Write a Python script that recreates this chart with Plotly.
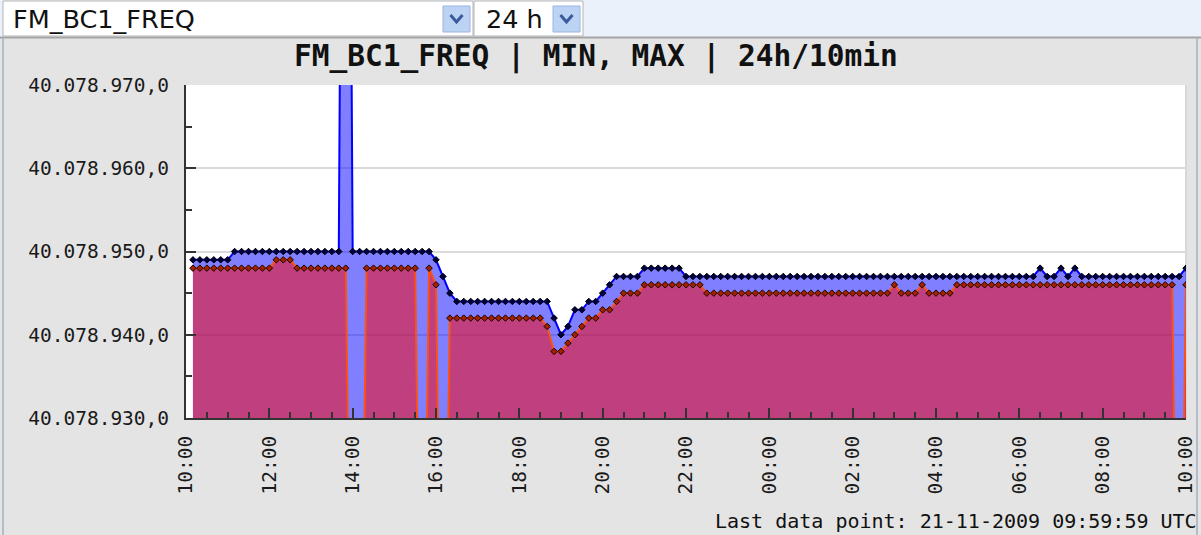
import pandas as pd
import plotly.graph_objects as go

# ---------------- data ----------------
# 10-minute buckets, labelled by the end of the bucket
TIMES = pd.date_range("2009-11-20 10:10", periods=144, freq="10min")

# MAX per bucket (Hz)
MAX_VALUES = (
    [40078949] * 6 + [40078950] * 16 + [40079090] + [40078950] * 12
    + [40078949, 40078947, 40078945] + [40078944] * 14
    + [40078942, 40078940, 40078941, 40078943, 40078943, 40078944, 40078944, 40078945, 40078946]
    + [40078947] * 4 + [40078948] * 6 + [40078947] * 51
    + [40078948, 40078947, 40078947, 40078948, 40078947, 40078948]
    + [40078947] * 15 + [40078948]
)

# MIN per bucket (Hz)
MIN_VALUES = (
    [40078948] * 12 + [40078949] * 3 + [40078948] * 8 + [40078885] * 2
    + [40078948] * 8 + [40078885, 40078948, 40078946, 40078885] + [40078942] * 14
    + [40078941, 40078938, 40078938, 40078939, 40078940, 40078941, 40078942, 40078942,
       40078943, 40078943, 40078944]
    + [40078945] * 3 + [40078946] * 9 + [40078945] * 27 + [40078946] + [40078945] * 3
    + [40078946] + [40078945] * 4 + [40078946] * 32 + [40078885, 40078946]
)

Y_RANGE = [40078930, 40078970]
Y_TICKS = [40078930, 40078940, 40078950, 40078960, 40078970]
Y_TICK_TEXT = ["40.078.930,0", "40.078.940,0", "40.078.950,0", "40.078.960,0", "40.078.970,0"]
X_RANGE = ["2009-11-20 10:00", "2009-11-21 10:00"]

TITLE = "FM_BC1_FREQ | MIN, MAX | 24h/10min"
SELECT_1 = "FM_BC1_FREQ"
SELECT_2 = "24 h"
FOOTER = "Last data point: 21-11-2009 09:59:59 UTC"

# ---------------- layout geometry ----------------
W, H = 1201, 535
L, R, T, B = 186, 1186, 85, 418


def PX(x):
    return (x - L) / (R - L)


def PY(y):
    return (B - y) / (B - T)


MONO = "DejaVu Sans Mono"
SANS = "DejaVu Sans"

fig = go.Figure()

base = [Y_RANGE[0]] * len(TIMES)

fig.add_trace(go.Scatter(x=TIMES, y=base, mode="lines", line=dict(width=0),
                         hoverinfo="skip", showlegend=False))
fig.add_trace(go.Scatter(
    x=TIMES, y=MAX_VALUES, name="MAX", mode="lines+markers",
    fill="tonexty", fillcolor="rgba(0,0,255,0.5)",
    line=dict(color="#0000ff", width=2),
    marker=dict(symbol="diamond", size=5, color="#000040",
                line=dict(color="#000000", width=1)),
    showlegend=False))
fig.add_trace(go.Scatter(x=TIMES, y=base, mode="lines", line=dict(width=0),
                         hoverinfo="skip", showlegend=False))
fig.add_trace(go.Scatter(
    x=TIMES, y=MIN_VALUES, name="MIN", mode="lines+markers",
    fill="tonexty", fillcolor="rgba(255,0,0,0.5)",
    line=dict(color="#ff5010", width=2),
    marker=dict(symbol="diamond", size=5, color="#a02000",
                line=dict(color="#1a0500", width=1)),
    showlegend=False))

shapes = []
# top selector bar
shapes.append(dict(type="rect", xref="paper", yref="paper", x0=PX(0), x1=PX(W), y0=PY(37), y1=PY(0),
                   fillcolor="#eaf1fa", line=dict(width=0), layer="above"))
shapes.append(dict(type="line", xref="paper", yref="paper", x0=PX(0), x1=PX(W), y0=PY(37.5), y1=PY(37.5),
                   line=dict(color="#a4a4a4", width=2), layer="above"))
for fx0, fx1, bx0, bx1 in [(3, 473, 443, 470), (474, 583, 553, 580)]:
    shapes.append(dict(type="rect", xref="paper", yref="paper", x0=PX(fx0), x1=PX(fx1), y0=PY(36), y1=PY(1),
                       fillcolor="#ffffff", line=dict(color="#b4b4b4", width=1), layer="above"))
    shapes.append(dict(type="rect", xref="paper", yref="paper", x0=PX(bx0), x1=PX(bx1), y0=PY(32), y1=PY(6),
                       fillcolor="#bcd3f4", line=dict(color="#9ab4de", width=1), layer="above"))
    cx = (bx0 + bx1) / 2
    path = "M {},{} L {},{} L {},{}".format(PX(cx - 6), PY(15), PX(cx), PY(22), PX(cx + 6), PY(15))
    shapes.append(dict(type="path", xref="paper", yref="paper", path=path,
                       line=dict(color="#3a5a9c", width=3), layer="above"))
# panel borders
for bx in (3, 1197):
    shapes.append(dict(type="line", xref="paper", yref="paper", x0=PX(bx), x1=PX(bx), y0=PY(38), y1=PY(H),
                       line=dict(color="#b4bccc", width=2), layer="above"))
# right plot border
shapes.append(dict(type="line", xref="paper", yref="paper", x0=1, x1=1, y0=0, y1=1,
                   line=dict(color="#d8d8d8", width=2), layer="below"))

annotations = [
    dict(text=SELECT_1, xref="paper", yref="paper", x=PX(11), y=PY(19), xanchor="left", yanchor="middle",
         showarrow=False, font=dict(family=SANS, size=25.5, color="#111111")),
    dict(text=SELECT_2, xref="paper", yref="paper", x=PX(484), y=PY(19), xanchor="left", yanchor="middle",
         showarrow=False, font=dict(family=SANS, size=25.5, color="#111111")),
    dict(text="<b>" + TITLE + "</b>", xref="paper", yref="paper", x=PX(596), y=PY(57),
         xanchor="center", yanchor="middle", showarrow=False,
         font=dict(family=MONO, size=29.5, color="#111111")),
    dict(text=FOOTER, xref="paper", yref="paper", x=PX(1199), y=PY(521), xanchor="right", yanchor="middle",
         showarrow=False, font=dict(family=MONO, size=20, color="#111111")),
]

fig.update_layout(
    width=W, height=H, autosize=False,
    margin=dict(l=L, r=W - R, t=T, b=H - B, pad=0, autoexpand=False),
    paper_bgcolor="#e4e4e4",
    plot_bgcolor="#ffffff",
    shapes=shapes,
    annotations=annotations,
    showlegend=False,
)

fig.update_xaxes(
    type="date", range=X_RANGE, automargin=False,
    tickformat="%H:%M", dtick=7200000, tick0="2009-11-20 10:00", tickangle=-90,
    ticks="inside", ticklen=10, tickwidth=2, tickcolor="#333333",
    minor=dict(dtick=1800000, tick0="2009-11-20 10:00", ticks="inside", ticklen=6, tickwidth=2,
               tickcolor="#333333", showgrid=False),
    showline=True, linecolor="#333333", linewidth=2,
    showgrid=False, zeroline=False,
    tickfont=dict(family=MONO, size=19.5, color="#1a1a1a"),
    ticklabelstandoff=8,
)
fig.update_yaxes(
    range=Y_RANGE, tickvals=Y_TICKS, ticktext=Y_TICK_TEXT, automargin=False,
    ticks="inside", ticklen=10, tickwidth=2, tickcolor="#333333",
    minor=dict(dtick=5, tick0=Y_RANGE[0], ticks="inside", ticklen=6, tickwidth=2,
               tickcolor="#333333", showgrid=False),
    showline=True, linecolor="#333333", linewidth=2,
    showgrid=True, gridcolor="#dadada", gridwidth=2, zeroline=False,
    tickfont=dict(family=MONO, size=19.5, color="#1a1a1a"),
    ticklabelstandoff=11,
)

fig.write_html(
    "out.html",
    config={"responsive": False, "displayModeBar": False},
    post_script="document.body.style.margin='0';",
)
